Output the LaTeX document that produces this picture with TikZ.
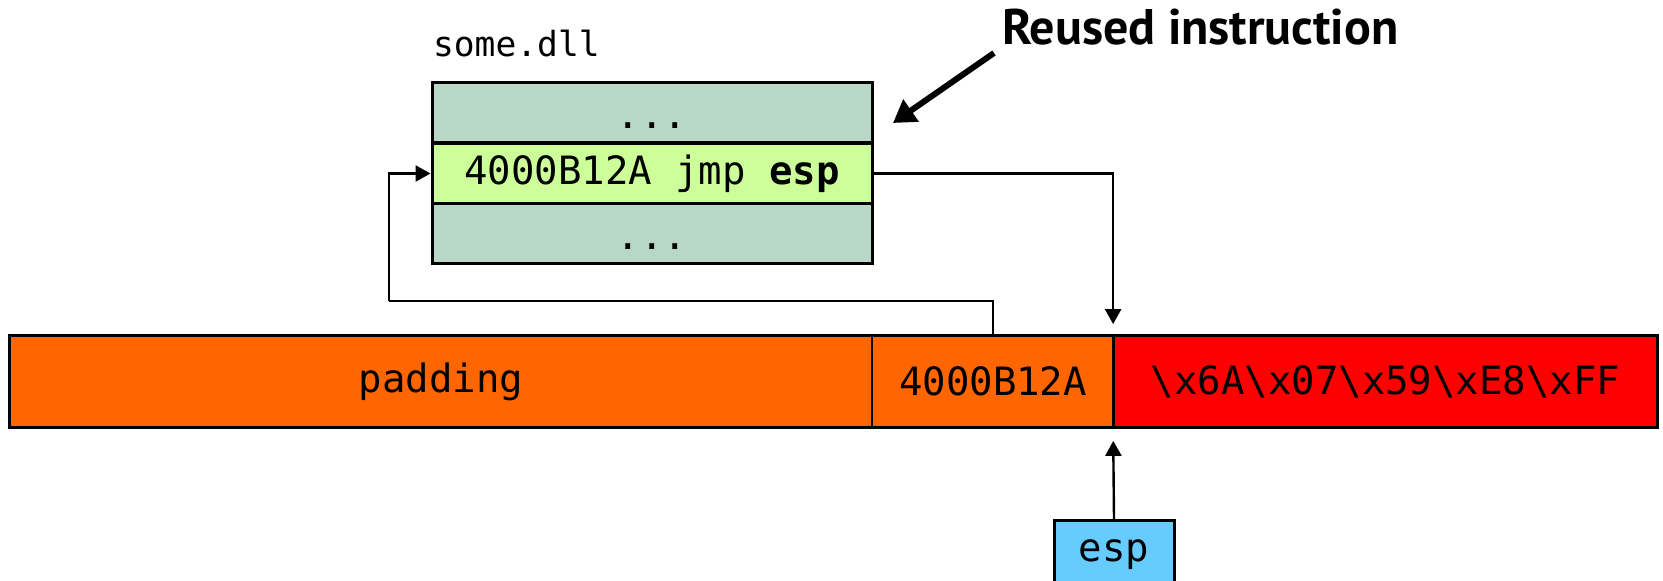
\documentclass[tikz,border=0pt]{standalone}
\usepackage{fontspec}
\setmonofont{DejaVu Sans Mono}
\newfontfamily\titlefont{PT Sans}
\usetikzlibrary{arrows.meta}
\definecolor{dllgray}{HTML}{B9D7C6}
\definecolor{dllhi}{HTML}{CCFF99}
\definecolor{padorange}{HTML}{FF6600}
\definecolor{shellred}{HTML}{FF0000}
\definecolor{espblue}{HTML}{66CCFF}
\newcommand{\elided}{\vphantom{0jp}\raisebox{-2.5pt}{...}}
\tikzset{
  mono/.style={font=\ttfamily\fontsize{19.5}{23}\selectfont},
  cell/.style={draw=black, line width=1.5pt, inner sep=0pt, minimum width=220pt, minimum height=30pt, mono},
  barcell/.style={draw=black, line width=0.9pt, inner sep=0pt, minimum height=45.5pt, mono},
  conn/.style={draw=black, line width=1.2pt, -{Triangle[length=7.5pt,width=8pt]}},
  wire/.style={draw=black, line width=1.2pt},
  callout/.style={draw=black, line width=3pt, -{Triangle[length=11pt,width=13pt]}},
}
\begin{document}
\begin{tikzpicture}[x=0.5pt,y=-0.5pt]
\useasboundingbox (0,0) rectangle (1663,581);

% module with the reused instruction
\node[anchor=base west, font=\ttfamily\fontsize{17.3}{20}\selectfont] (dllname) at (426,57) {some.dll};
\node[cell, fill=dllgray] (dll1) at (652,113) {\elided};
\node[cell, fill=dllhi] (dll2) at (652,173.5) {4000B12A jmp \textbf{esp}};
\node[cell, fill=dllgray] (dll3) at (652,234) {\elided};

% overflowing stack buffer
\node[barcell, fill=padorange, minimum width=431pt] (pad) at (441,381.5) {padding};
\node[barcell, fill=padorange, minimum width=121pt] (ret) at (993,381.5) {4000B12A};
\node[barcell, fill=shellred, minimum width=271.5pt] (sc) at (1385.5,381.5) {\textbackslash x6A\textbackslash x07\textbackslash x59\textbackslash xE8\textbackslash xFF};
\draw[line width=1.5pt] (pad.north west) rectangle (sc.south east);
\draw[line width=1.5pt] (sc.north west) -- (sc.south west);

% stack pointer
\node[draw=black, line width=1.5pt, fill=espblue, inner sep=0pt, minimum width=60pt, minimum height=34pt, mono] (esp) at (1114,555) {esp};

% control flow
\coordinate (loopback) at (389,301);
\draw[wire] (ret.north) |- (loopback);
\draw[conn] (loopback) |- (dll2.west);
\draw[conn, shorten >=5.5pt] (dll2.east) -| (sc.north west);
\draw[conn, shorten >=6.5pt] (esp.north) -- (sc.south west);

% annotation
\node[anchor=base west, font=\titlefont\bfseries\fontsize{25}{29}\selectfont] (title) at (995,44.5) {Reused instruction};
\coordinate (ctail) at (994,53);
\coordinate (chead) at (893,123);
\draw[callout] (ctail) -- (chead);
\end{tikzpicture}
\end{document}
